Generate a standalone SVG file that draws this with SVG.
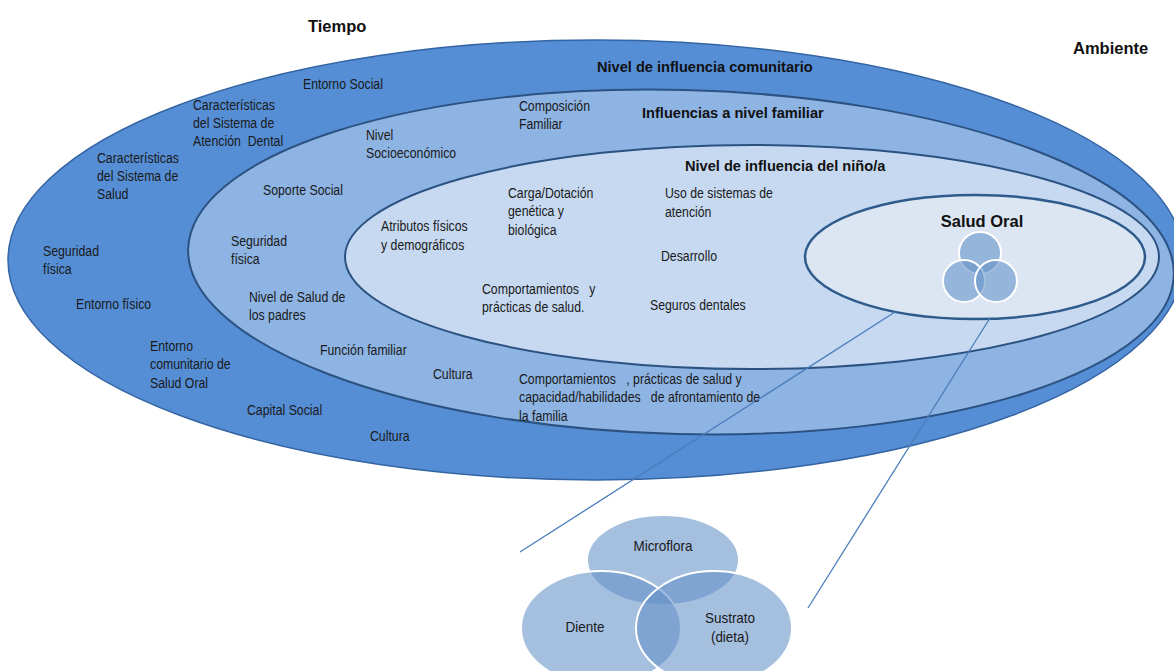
<svg xmlns="http://www.w3.org/2000/svg" width="1174" height="671" viewBox="0 0 1174 671">
<style>
.t{font-family:"Liberation Sans Narrow","Arial Narrow","Liberation Sans",sans-serif;font-size:15px;fill:#1a1a1a}
.h{font-family:"Liberation Sans","Arial",sans-serif;font-weight:bold;fill:#111}
.v{fill:#6491c8;fill-opacity:0.58;stroke:#fff;stroke-width:2}
.conn{stroke:#4a7ebb;stroke-width:1.3;fill:none}
</style>
<rect width="1174" height="671" fill="#fff"/>
<g id="ambiente-outer">
<ellipse cx="596" cy="260" rx="588" ry="220" fill="#558ed5" stroke="#3464a3" stroke-width="1.5"/>
</g>
<g id="familiar">
<ellipse cx="681" cy="262" rx="493" ry="172" transform="rotate(1.5 681 262)" fill="#8eb4e3" stroke="#2c5282" stroke-width="2"/>
</g>
<g id="nino">
<ellipse cx="752" cy="257" rx="407" ry="112" fill="#c6d9f1" stroke="#2c5282" stroke-width="2"/>
</g>
<g id="salud-oral">
<ellipse cx="975" cy="257" rx="170" ry="62" fill="#dce6f2" stroke="#2e5b8c" stroke-width="2.5"/>
<text class="h" x="982" y="227" font-size="16.5" text-anchor="middle">Salud Oral</text>
<circle class="v" cx="980" cy="253" r="21"/>
<circle class="v" cx="964" cy="281" r="21"/>
<circle class="v" cx="996" cy="281" r="21"/>
</g>
<g id="connectors">
<line class="conn" x1="895" y1="312" x2="520" y2="552"/>
<line class="conn" x1="990" y1="318" x2="808" y2="608"/>
</g>
<g id="venn">
<ellipse class="v" cx="663" cy="560" rx="76" ry="45"/>
<ellipse class="v" cx="601" cy="628" rx="80" ry="57"/>
<ellipse class="v" cx="714" cy="628" rx="78" ry="57"/>
<text class="t" transform="translate(663,551) scale(0.9,1)" font-size="16.5" text-anchor="middle">Microflora</text>
<text class="t" transform="translate(585,632) scale(0.9,1)" font-size="16.5" text-anchor="middle">Diente</text>
<text class="t" transform="translate(730,623) scale(0.9,1)" font-size="16.5" text-anchor="middle">Sustrato</text>
<text class="t" transform="translate(730,642) scale(0.9,1)" font-size="16.5" text-anchor="middle">(dieta)</text>
</g>
<g id="headers">
<text class="h" x="308" y="32" font-size="16.5">Tiempo</text>
<text class="h" x="1073" y="54" font-size="16.5">Ambiente</text>
<text class="h" x="597" y="72" font-size="14.6">Nivel de influencia comunitario</text>
<text class="h" x="642" y="118" font-size="14.6">Influencias a nivel familiar</text>
<text class="h" x="685" y="171" font-size="14.6">Nivel de influencia del niño/a</text>
</g>
<g id="labels" class="t">
<text transform="translate(303,89) scale(0.82,1)">Entorno Social</text>
<text transform="translate(193,110) scale(0.82,1)">Características<tspan x="0" dy="18">del Sistema de</tspan><tspan x="0" dy="18">Atención&#160; Dental</tspan></text>
<text transform="translate(97,163) scale(0.82,1)">Características<tspan x="0" dy="18">del Sistema de</tspan><tspan x="0" dy="18">Salud</tspan></text>
<text transform="translate(519,111) scale(0.82,1)">Composición<tspan x="0" dy="18">Familiar</tspan></text>
<text transform="translate(366,140) scale(0.82,1)">Nivel<tspan x="0" dy="18">Socioeconómico</tspan></text>
<text transform="translate(263,195) scale(0.82,1)">Soporte Social</text>
<text transform="translate(508,198) scale(0.82,1)">Carga/Dotación<tspan x="0" dy="18.5">genética y</tspan><tspan x="0" dy="18.5">biológica</tspan></text>
<text transform="translate(665,198) scale(0.82,1)">Uso de sistemas de<tspan x="0" dy="19">atención</tspan></text>
<text transform="translate(381,231) scale(0.82,1)">Atributos físicos<tspan x="0" dy="19">y demográficos</tspan></text>
<text transform="translate(43,256) scale(0.82,1)">Seguridad<tspan x="0" dy="18">física</tspan></text>
<text transform="translate(231,246) scale(0.82,1)">Seguridad<tspan x="0" dy="18">física</tspan></text>
<text transform="translate(661,261) scale(0.82,1)">Desarrollo</text>
<text transform="translate(76,309) scale(0.82,1)">Entorno físico</text>
<text transform="translate(249,302) scale(0.82,1)">Nivel de Salud de<tspan x="0" dy="18">los padres</tspan></text>
<text transform="translate(482,294) scale(0.82,1)">Comportamientos&#160;&#160; y<tspan x="0" dy="18">prácticas de salud.</tspan></text>
<text transform="translate(650,310) scale(0.82,1)">Seguros dentales</text>
<text transform="translate(150,351) scale(0.82,1)">Entorno<tspan x="0" dy="18.5">comunitario de</tspan><tspan x="0" dy="18.5">Salud Oral</tspan></text>
<text transform="translate(320,355) scale(0.82,1)">Función familiar</text>
<text transform="translate(433,379) scale(0.82,1)">Cultura</text>
<text transform="translate(519,384) scale(0.82,1)">Comportamientos&#160;&#160; , prácticas de salud y<tspan x="0" dy="18.5">capacidad/habilidades&#160;&#160; de afrontamiento de</tspan><tspan x="0" dy="18.5">la familia</tspan></text>
<text transform="translate(247,415) scale(0.82,1)">Capital Social</text>
<text transform="translate(370,441) scale(0.82,1)">Cultura</text>
</g>
</svg>
